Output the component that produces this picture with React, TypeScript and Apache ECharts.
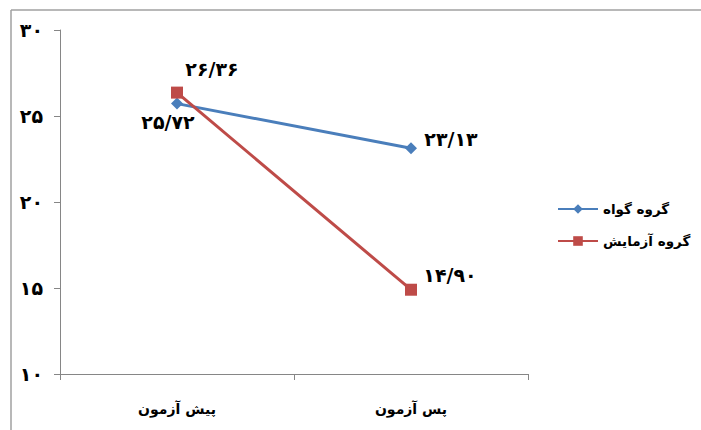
import React, { useEffect, useRef } from "react";
import * as echarts from "echarts";

const categories = ["پیش آزمون", "پس آزمون"];
const controlName = "گروه گواه";
const experimentName = "گروه آزمایش";
const controlValues = [25.72, 23.13];
const experimentValues = [26.36, 14.9];
const yTicks = [10, 15, 20, 25, 30];

const FA = "۰۱۲۳۴۵۶۷۸۹";
const toFa = (s: string) => s.replace(/[0-9]/g, (d) => FA[+d]);
const fmtVal = (v: number) => toFa(v.toFixed(2).replace(".", "/"));

const FONT = "DejaVu Sans";

export default function App() {
  const ref = useRef<HTMLDivElement>(null);
  useEffect(() => {
    document.body.style.margin = "0";
    const chart = echarts.init(ref.current!, null, { renderer: "svg" });
    const labelStyle = {
      fontFamily: FONT,
      fontSize: 19,
      color: "#000",
      fontWeight: "bold" as const,
      position: "inside" as const,
      align: "center" as const,
      verticalAlign: "middle" as const,
      formatter: (p: any) => fmtVal(p.value),
    };
    chart.setOption({
      animation: false,
      backgroundColor: "#fff",
      grid: { left: 60, right: 173, top: 30, bottom: 56 },
      legend: {
        orient: "vertical",
        left: 552,
        top: 197,
        itemGap: 18,
        itemWidth: 40,
        itemHeight: 12,
        textStyle: { fontFamily: FONT, fontSize: 13.5, fontWeight: "bold", color: "#000" },
        data: [controlName, experimentName],
      },
      xAxis: {
        type: "category",
        data: categories,
        boundaryGap: true,
        axisLine: { lineStyle: { color: "#868686", width: 1 } },
        axisTick: { show: true, inside: false, length: 6, lineStyle: { color: "#868686" } },
        axisLabel: { margin: 28, fontFamily: FONT, fontSize: 14, fontWeight: "bold", color: "#000" },
        splitLine: { show: false },
      },
      yAxis: {
        type: "value",
        min: yTicks[0],
        max: yTicks[yTicks.length - 1],
        interval: 5,
        axisLine: { show: true, lineStyle: { color: "#868686", width: 1 } },
        axisTick: { show: true, inside: false, length: 6, lineStyle: { color: "#868686" } },
        axisLabel: {
          margin: 17,
          fontFamily: FONT,
          fontSize: 19,
          fontWeight: "bold",
          color: "#000",
          formatter: (v: number) => toFa(String(v)),
        },
        splitLine: { show: false },
      },
      series: [
        {
          name: controlName,
          type: "line",
          data: [
            { value: controlValues[0], label: { show: true, offset: [-9, 18] } },
            { value: controlValues[1], label: { show: true, offset: [40, -9] } },
          ],
          symbol: "diamond",
          symbolSize: 12,
          lineStyle: { color: "#4A7EBB", width: 3 },
          itemStyle: { color: "#4A7EBB" },
          label: labelStyle,
          z: 2,
        },
        {
          name: experimentName,
          type: "line",
          data: [
            { value: experimentValues[0], label: { show: true, offset: [35, -24] } },
            { value: experimentValues[1], label: { show: true, offset: [39, -15] } },
          ],
          symbol: "rect",
          symbolSize: 12,
          lineStyle: { color: "#BE4B48", width: 3 },
          itemStyle: { color: "#BE4B48" },
          label: labelStyle,
          z: 3,
        },
      ],
      graphic: [
        { type: "line", shape: { x1: 11, y1: 10, x2: 701, y2: 10 }, style: { stroke: "#A0A0A0", lineWidth: 1.5 } },
        { type: "line", shape: { x1: 11, y1: 10, x2: 11, y2: 430 }, style: { stroke: "#A0A0A0", lineWidth: 1.5 } },
      ],
    });
    return () => chart.dispose();
  }, []);
  return <div ref={ref} style={{ width: 701, height: 430 }} />;
}
